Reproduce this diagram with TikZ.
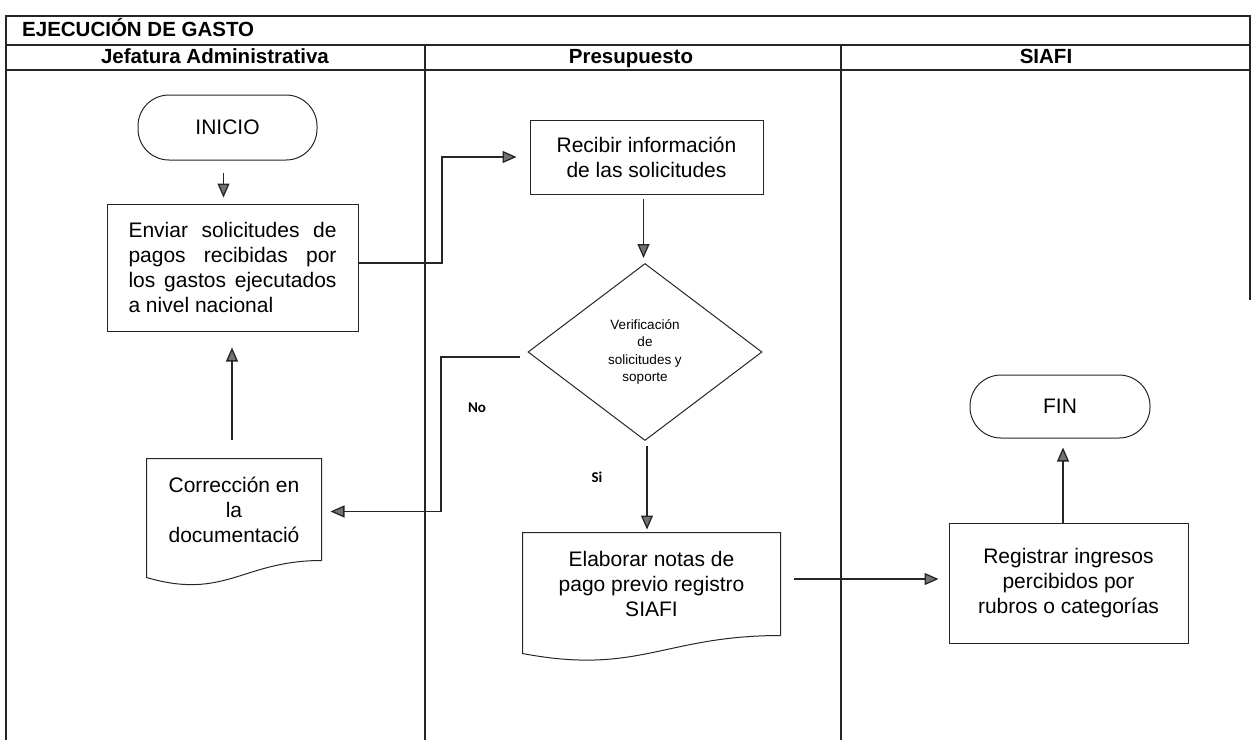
\documentclass[tikz,border=0pt]{standalone}
\usepackage{fontspec}
\setmainfont{Liberation Sans}
\newfontfamily\calibfont{Carlito}
\usetikzlibrary{arrows.meta,shapes.geometric,calc}
\newcommand\docpath[2]{%
  \draw[black!85,line width=1pt] (#1.south east) -- (#1.north east) -- (#1.north west) -- ($(#1.south west)+(0,#2)$)
    .. controls ($(#1.south west)!0.45!(#1.south east)+(0,40)$) and ($(#1.south west)!0.55!(#1.south east)$) .. (#1.south east);}
\begin{document}
\begin{tikzpicture}[x=1pt,y=-1pt,
  lane/.style={line width=1.2pt, draw=black!85},
  box/.style={draw=black!85, line width=1pt, align=center, inner sep=0pt, font=\fontsize{21}{25}\selectfont},
  arr/.style={line width=1.3pt, draw=black!85, -{Triangle[length=14pt,width=12pt,fill=black!55]}},
  hdr/.style={inner sep=0pt, text height=15pt, text depth=4pt, font=\bfseries\fontsize{20.5}{24}\selectfont},
  lbl/.style={inner sep=0pt, font=\calibfont\bfseries\fontsize{15}{18}\selectfont}]
\useasboundingbox (0,0) rectangle (1254,740);
% frame
\draw[lane] (6,740) -- (6,16) -- (1250,16) -- (1250,300);
\draw[lane] (6,45) -- (1250,45);
\draw[lane] (6,70) -- (1250,70);
\draw[lane] (425,45) -- (425,740);
\draw[lane] (841,45) -- (841,740);
\node[hdr, anchor=west] (title) at (22,31) {EJECUCIÓN DE GASTO};
\node[hdr] (h1) at (215,58) {Jefatura Administrativa};
\node[hdr] (h2) at (631,58) {Presupuesto};
\node[hdr] (h3) at (1046,58) {SIAFI};
% nodes
\node[box, rounded corners=31pt, minimum width=179pt, minimum height=65pt] (ini) at (227.5,127.5) {INICIO};
\node[box, minimum width=251pt, minimum height=127pt, text width=208pt, align=justify] (env) at (232.5,267.5)
  {Enviar solicitudes de\linebreak pagos recibidas por\linebreak los gastos ejecutados\linebreak a nivel nacional};
\node[box, minimum width=233pt, minimum height=74pt] (rec) at (646.5,157) {Recibir información\\de las solicitudes};
\node[box, diamond, aspect=1.32, minimum width=234pt, minimum height=177pt, font=\fontsize{13.5}{17.5}\selectfont] (dec) at (645,352)
  {Verificación\\de\\solicitudes y\\soporte};
\node[box, draw=none, minimum width=174pt, minimum height=101pt] (cor) at (234,509.5) {Corrección en\\la\\documentació};
\docpath{cor}{17}
\node[box, draw=none, minimum width=257pt, minimum height=102pt] (ela) at (651.5,584) {Elaborar notas de\\pago previo registro\\SIAFI};
\docpath{ela}{18}
\node[box, minimum width=239pt, minimum height=120pt] (reg) at (1068.5,583) {Registrar ingresos\\percibidos por\\rubros o categorías};
\node[box, rounded corners=31pt, minimum width=180pt, minimum height=63pt] (fin) at (1060,406.5) {FIN};
% labels
\node[lbl] (no) at (477,408) {No};
\node[lbl] (si) at (597,477) {Si};
% connectors
\coordinate (j1) at (442,263);
\coordinate (j2) at (441,357);
\draw[arr, shorten <=12pt, shorten >=6pt] ([xshift=-4pt]ini.south) -- ([xshift=-4pt]ini.south |- env.north);
\draw[arr, shorten >=13pt] (env.east |- j1) -- (j1) |- (rec.west);
\draw[arr, shorten <=4pt, shorten >=5pt] ([xshift=-3pt]rec.south) -- ([xshift=-3pt]rec.south |- dec.north);
\draw[arr, shorten >=9pt] ([xshift=-8pt]dec.west |- j2) -- (j2) |- ([yshift=-2pt]cor.east);
\draw[arr, shorten <=19pt, shorten >=16pt] ([xshift=-2pt]cor.north) -- ([xshift=-2pt]cor.north |- env.south);
\draw[arr, shorten <=5pt, shorten >=3pt] ([xshift=2pt]dec.south) -- ([xshift=2pt]dec.south |- ela.north);
\draw[arr, shorten <=13pt, shorten >=10pt] ([yshift=5pt]ela.east) -- ([yshift=5pt]ela.east -| reg.west);
\draw[arr, shorten >=9pt] ([xshift=3pt]reg.north -| fin.south) -- ([xshift=3pt]fin.south);
\end{tikzpicture}
\end{document}
